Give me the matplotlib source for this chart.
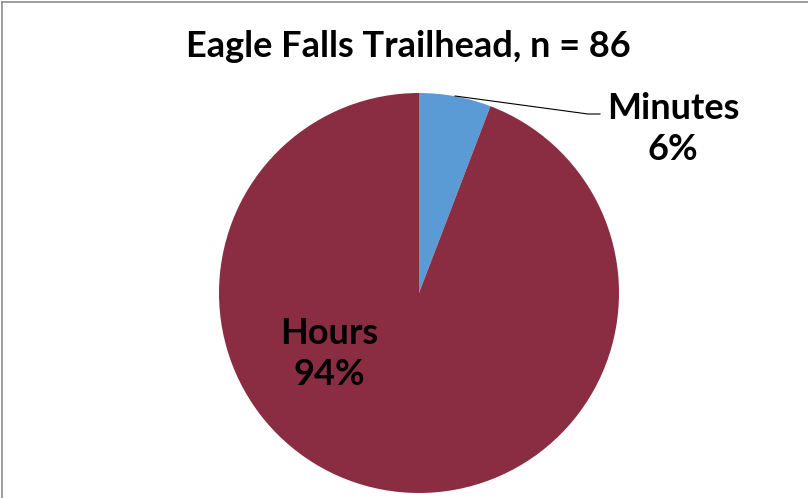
import matplotlib

matplotlib.use("Agg")
import matplotlib.pyplot as plt
from matplotlib.lines import Line2D

TITLE = "Eagle Falls Trailhead, n = 86"
CATEGORIES = ["Minutes", "Hours"]
COUNTS = [5, 81]
COLORS = ["#5B9BD5", "#8B2D42"]

W, H = 808, 498

plt.rcParams["font.family"] = ["Lato", "DejaVu Sans"]

fig = plt.figure(figsize=(W / 100, H / 100), dpi=100)
ax = fig.add_axes([0, 0, 1, 1])

# pie in pixel coordinates (y measured from the bottom)
cx, cy, r = 419, H - 293, 200
ax.pie(
    COUNTS,
    colors=COLORS,
    startangle=90,
    counterclock=False,
    center=(cx, cy),
    radius=r,
    frame=True,
    wedgeprops={"linewidth": 0},
)
ax.set_xlim(0, W)
ax.set_ylim(0, H)
ax.set_aspect("equal")
ax.axis("off")

total = sum(COUNTS)
pct = [round(100 * c / total) for c in COUNTS]

ax.text(W / 2 + 4, H - 46, TITLE, ha="center", va="center", fontsize=26, fontweight="bold")

# Minutes label with leader line
ax.text(673, H - 129, f"{CATEGORIES[0]}\n{pct[0]}%", ha="center", va="center",
        fontsize=26, fontweight="bold", linespacing=1.3)
ax.plot([455, 588, 600], [H - 96, H - 114, H - 114], color="black", linewidth=0.8)

# Hours label inside slice
ax.text(329, H - 354, f"{CATEGORIES[1]}\n{pct[1]}%", ha="center", va="center",
        fontsize=26, fontweight="bold", linespacing=1.3)

# chart frame (top and left edges visible)
fig.add_artist(Line2D([1.5 / W, 1.5 / W], [0, 1 - 2.5 / H], transform=fig.transFigure,
                      color="#8c8c8c", linewidth=1.2))
fig.add_artist(Line2D([1.5 / W, 1], [1 - 2.5 / H, 1 - 2.5 / H], transform=fig.transFigure,
                      color="#8c8c8c", linewidth=1.2))

fig.savefig("out.png", dpi=100)
plt.close(fig)
